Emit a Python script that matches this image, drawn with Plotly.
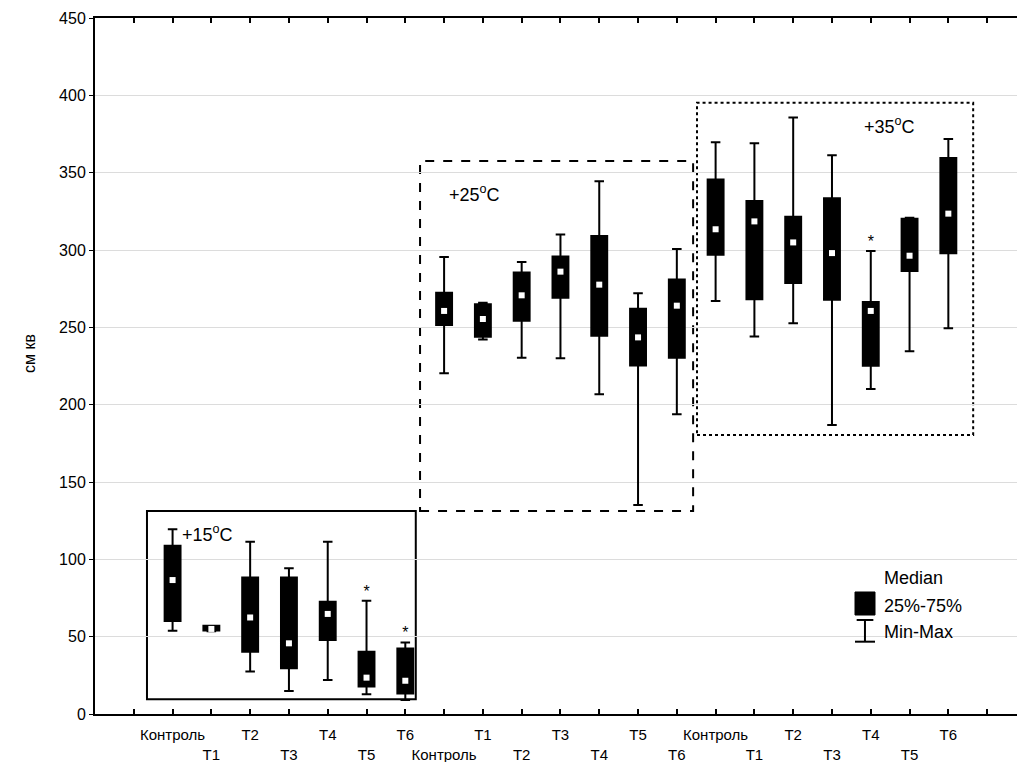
import plotly.graph_objects as go

# ---- data ----
groups = ["+15", "+25", "+35"]
treatments = ["Контроль", "T1", "T2", "T3", "T4", "T5", "T6"]

mins = [53.9, 53.5, 27.4, 14.9, 22.0, 12.7, 9.0,
        220.3, 242.2, 230.4, 230.0, 206.7, 135.1, 193.8,
        267.0, 244.0, 252.6, 186.8, 210.1, 234.5, 249.4]
q1s = [60.1, 54.0, 40.3, 29.5, 47.8, 17.7, 13.3,
       251.5, 243.9, 254.3, 269.2, 244.6, 225.4, 230.4,
       297.0, 268.1, 278.7, 267.9, 225.2, 286.4, 297.9]
medians = [86.6, 55.0, 62.4, 45.7, 64.7, 23.5, 21.5,
           260.6, 255.4, 270.7, 286.0, 277.6, 243.5, 264.0,
           313.4, 318.5, 304.9, 298.0, 260.6, 296.3, 323.5]
q3s = [108.8, 57.0, 88.2, 88.2, 72.6, 40.3, 42.4,
       272.4, 264.9, 285.5, 295.8, 309.0, 262.0, 281.0,
       345.6, 331.7, 321.5, 333.4, 266.4, 320.2, 359.5]
maxs = [119.4, 57.0, 111.4, 94.2, 111.4, 73.3, 46.3,
        295.5, 265.9, 292.2, 310.1, 344.4, 272.0, 300.6,
        369.6, 369.0, 385.7, 361.2, 299.3, 320.9, 371.8]
significant = [False, False, False, False, False, True, True,
               False, False, False, False, False, False, False,
               False, False, False, False, True, False, False]

categories = treatments * 3
positions = list(range(1, len(categories) + 1))

FONT = "Liberation Sans, Arial, sans-serif"

fig = go.Figure()

fig.add_trace(go.Box(
    x=positions, q1=q1s, median=medians, q3=q3s,
    lowerfence=mins, upperfence=maxs,
    width=0.41, whiskerwidth=0.6,
    fillcolor="black", line=dict(color="black", width=2),
    boxpoints=False, hoverinfo="skip", showlegend=False,
))

fig.add_trace(go.Scatter(
    x=positions, y=medians, mode="markers",
    marker=dict(symbol="square", color="white", size=6, line=dict(width=0)),
    hoverinfo="skip", showlegend=False,
))

sig_x = [p for p, s in zip(positions, significant) if s]
sig_y = [m for m, s in zip(maxs, significant) if s]
fig.add_trace(go.Scatter(
    x=sig_x, y=sig_y, mode="text", text=["*"] * len(sig_x),
    textposition="top center", textfont=dict(family=FONT, size=16, color="black"),
    hoverinfo="skip", showlegend=False,
))

# tick labels: staggered in two rows
tickvals = [0] + positions + [len(positions) + 1]
ticktext = [""]
for i, c in enumerate(categories):
    ticktext.append(c if i % 2 == 0 else "<br>" + c)
ticktext.append("")

# group frames
frames = [
    dict(x0=0.34, x1=7.27, y0=9.5, y1=131.2, dash="solid"),
    dict(x0=7.38, x1=14.42, y0=131.2, y1=357.5, dash="dash"),
    dict(x0=14.52, x1=21.64, y0=180.4, y1=395.2, dash="dot"),
]
for f in frames:
    fig.add_shape(type="rect", xref="x", yref="y", x0=f["x0"], x1=f["x1"],
                  y0=f["y0"], y1=f["y1"],
                  line=dict(color="black", width=2, dash=f["dash"]),
                  fillcolor="rgba(0,0,0,0)", layer="below")

group_labels = [(1.19, 116.4), (8.08, 336.8), (18.77, 380.2)]
for g, (gx, gy) in zip(groups, group_labels):
    fig.add_annotation(x=gx, y=gy, xref="x", yref="y", xanchor="left", yanchor="middle",
                       text=g + "<sup>o</sup>C", showarrow=False,
                       font=dict(family=FONT, size=18, color="black"))

# legend (custom)
fig.add_shape(type="rect", xref="paper", yref="paper", x0=0.8243, x1=0.8460,
              y0=0.1422, y1=0.1753, fillcolor="black", line=dict(color="black", width=1))
fig.add_shape(type="line", xref="paper", yref="paper", x0=0.8351, x1=0.8351,
              y0=0.1039, y1=0.1351, line=dict(color="black", width=2))
fig.add_shape(type="line", xref="paper", yref="paper", x0=0.8261, x1=0.8442,
              y0=0.1351, y1=0.1351, line=dict(color="black", width=2))
fig.add_shape(type="line", xref="paper", yref="paper", x0=0.8243, x1=0.8460,
              y0=0.1039, y1=0.1039, line=dict(color="black", width=2))
for txt, ly in [("Median", 0.1954), ("25%-75%", 0.1556), ("Min-Max", 0.1182)]:
    fig.add_annotation(x=0.8533, y=ly, xref="paper", yref="paper", xanchor="left",
                       yanchor="middle", text=txt, showarrow=False,
                       font=dict(family=FONT, size=18, color="black"))

# y axis title
fig.add_annotation(x=-0.0705, y=0.5187, xref="paper", yref="paper", text="см кв",
                   textangle=-90, showarrow=False, xanchor="center", yanchor="middle",
                   font=dict(family=FONT, size=16, color="black"))

fig.update_layout(
    width=1017, height=762,
    margin=dict(l=95, r=0, t=18, b=48, autoexpand=False),
    plot_bgcolor="white", paper_bgcolor="white",
    showlegend=False,
    font=dict(family=FONT, color="black"),
    xaxis=dict(range=[-1, 22.77], tickmode="array", tickvals=tickvals, ticktext=ticktext,
               ticks="inside", ticklen=5, tickwidth=1.5, tickcolor="black",
               showline=True, linecolor="black", linewidth=2, mirror="ticks",
               showgrid=False, zeroline=False, tickangle=0, automargin=False,
               ticklabelstandoff=6,
               tickfont=dict(family=FONT, size=15, color="black")),
    yaxis=dict(range=[0, 450], dtick=50, ticks="outside", ticklen=4, tickcolor="black",
               showline=True, linecolor="black", linewidth=2, automargin=False,
               showgrid=True, gridcolor="#dcdcdc", gridwidth=1, zeroline=False,
               tickfont=dict(family=FONT, size=16, color="black")),
)

fig.write_html("out.html", config={"displayModeBar": False},
               post_script="document.body.style.margin='0';document.body.style.overflow='hidden';")
